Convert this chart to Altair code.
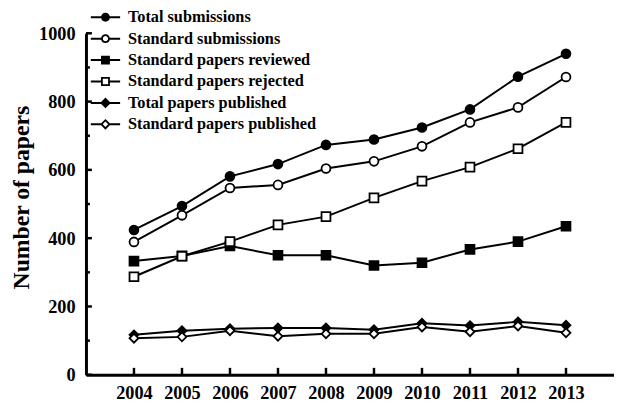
import altair as alt
import pandas as pd

years = [2004, 2005, 2006, 2007, 2008, 2009, 2010, 2011, 2012, 2013]
series = [
    "Total submissions",
    "Standard submissions",
    "Standard papers reviewed",
    "Standard papers rejected",
    "Total papers published",
    "Standard papers published",
]
total_submissions = [424, 494, 581, 617, 673, 689, 724, 777, 873, 940]
standard_submissions = [389, 467, 547, 556, 604, 625, 669, 739, 783, 872]
standard_reviewed = [333, 348, 377, 350, 350, 320, 328, 367, 390, 435]
standard_rejected = [287, 347, 390, 439, 463, 518, 567, 608, 662, 739]
total_published = [117, 129, 135, 137, 137, 132, 151, 144, 155, 145]
standard_published = [107, 111, 129, 113, 120, 120, 140, 126, 143, 123]

y_major = [0, 200, 400, 600, 800, 1000]
y_minor = [100, 300, 500, 700, 900]
x_domain = [2003, 2014]
y_domain = [0, 1000]

all_values = [total_submissions, standard_submissions, standard_reviewed,
              standard_rejected, total_published, standard_published]
rows = []
for name, vals in zip(series, all_values):
    for yr, v in zip(years, vals):
        rows.append({"year": yr, "series": name, "papers": v})
df = pd.DataFrame(rows)
# tick positions: x ticks sit on the y-domain floor, y ticks on the x-domain start
df_xticks = pd.DataFrame({"year": years, "papers": [y_domain[0]] * len(years)})
df_major = pd.DataFrame({"papers": y_major, "year": [x_domain[0]] * len(y_major)})
df_minor = pd.DataFrame({"papers": y_minor, "year": [x_domain[0]] * len(y_minor)})

W, H = 535, 346
FONT = "Liberation Serif"

plot_shapes = ["circle", "circle", "square", "square", "diamond", "diamond"]
fills = ["black", "white", "black", "white", "black", "white"]

# legend glyphs: line stub + marker, drawn as filled outlines (unit = half marker)
stubs_c = "M-3.3,-0.22H-0.9V0.22H-3.3Z M0.9,-0.22H3.3V0.22H0.9Z "
stubs_s = "M-3.3,-0.22H-0.8V0.22H-3.3Z M0.8,-0.22H3.3V0.22H0.8Z "
stubs_d = "M-3.3,-0.22H-0.9V0.22H-3.3Z M0.9,-0.22H3.3V0.22H0.9Z "
circle_out = "M1,0A1,1,0,1,1,-1,0A1,1,0,1,1,1,0Z "
circle_in = "M0.58,0A0.58,0.58,0,1,0,-0.58,0A0.58,0.58,0,1,0,0.58,0Z"
square_out = "M-1,-1H1V1H-1Z "
square_in = "M-0.6,-0.6V0.6H0.6V-0.6Z"
diamond_out = "M0,-1.2L1.2,0L0,1.2L-1.2,0Z "
diamond_in = "M0,-0.62L-0.62,0L0,0.62L0.62,0Z"
legend_paths = [
    stubs_c + circle_out,
    stubs_c + circle_out + circle_in,
    stubs_s + square_out,
    stubs_s + square_out + square_in,
    stubs_d + diamond_out,
    stubs_d + diamond_out + diamond_in,
]

x_scale = alt.Scale(domain=x_domain, nice=False, zero=False)
y_scale = alt.Scale(domain=y_domain, nice=False)

base = alt.Chart(df)

lines = base.mark_line(color="black", strokeWidth=2).encode(
    x=alt.X("year:Q", scale=x_scale, axis=alt.Axis(
        values=years, format="d", title=None, grid=False, ticks=False, tickSize=0,
        domainColor="black", domainWidth=3, labelFont=FONT, labelFontSize=18.5,
        labelFontWeight="bold", labelColor="black", labelPadding=9,
        labelFlush=False, labelOverlap=False)),
    y=alt.Y("papers:Q", scale=y_scale, axis=alt.Axis(
        values=y_major, format="d", title="Number of papers", grid=False,
        ticks=False, tickSize=0,
        domainColor="black", domainWidth=3, labelFont=FONT, labelFontSize=18.5,
        labelFontWeight="bold", labelColor="black", labelPadding=11,
        labelFlush=False, labelOverlap=False,
        titleFont=FONT, titleFontSize=24, titleFontWeight="bold", titleColor="black",
        titleX=-65, titleY=166, titleAngle=270, titleAlign="center",
        titleBaseline="middle")),
    detail="series:N",
)

# inward tick marks on both axes
x_ticks = alt.Chart(df_xticks).mark_tick(
    orient="vertical", size=7, thickness=2.5, color="black", yOffset=-3.5, opacity=1
).encode(
    x=alt.X("year:Q", scale=x_scale, axis=None),
    y=alt.Y("papers:Q", scale=y_scale, axis=None),
)
y_ticks_major = alt.Chart(df_major).mark_tick(
    orient="horizontal", size=6, thickness=2.5, color="black", xOffset=3, opacity=1
).encode(
    x=alt.X("year:Q", scale=x_scale, axis=None),
    y=alt.Y("papers:Q", scale=y_scale, axis=None),
)
y_ticks_minor = alt.Chart(df_minor).mark_tick(
    orient="horizontal", size=4, thickness=2.5, color="black", xOffset=2, opacity=1
).encode(
    x=alt.X("year:Q", scale=x_scale, axis=None),
    y=alt.Y("papers:Q", scale=y_scale, axis=None),
)

marker_layers = []
for name, shp, fl in zip(series, plot_shapes, fills):
    layer = base.transform_filter(alt.datum.series == name).mark_point(
        shape=shp, size=81, filled=True, fill=fl, stroke="black", strokeWidth=1.8,
        opacity=1
    ).encode(
        x=alt.X("year:Q", scale=x_scale, axis=None),
        y=alt.Y("papers:Q", scale=y_scale, axis=None),
    )
    marker_layers.append(layer)

leg = alt.Legend(
    title=None, orient="none", legendX=11.5, legendY=-24.5, padding=0,
    labelFont=FONT, labelFontSize=16.5, labelFontWeight="bold", labelColor="black",
    labelOffset=14.5, labelLimit=400, symbolSize=81, symbolStrokeWidth=0,
    symbolFillColor="black", rowPadding=4.7,
)

legend_layer = base.mark_point(size=0, opacity=1, filled=True, color="black").encode(
    x=alt.X("year:Q", scale=x_scale, axis=None),
    y=alt.Y("papers:Q", scale=y_scale, axis=None),
    shape=alt.Shape("series:N", sort=series,
                    scale=alt.Scale(domain=series, range=legend_paths), legend=leg),
)

chart = alt.layer(
    lines, x_ticks, y_ticks_major, y_ticks_minor, *marker_layers, legend_layer
).resolve_axis(
    x="independent", y="independent"
).properties(
    width=W, height=H,
    autosize=alt.AutoSizeParams(type="none"),
    padding={"left": 79, "top": 23, "right": 0, "bottom": 28},
).configure_view(stroke=None)

chart.save("out.html", embed_options={"renderer": "svg", "actions": False})
